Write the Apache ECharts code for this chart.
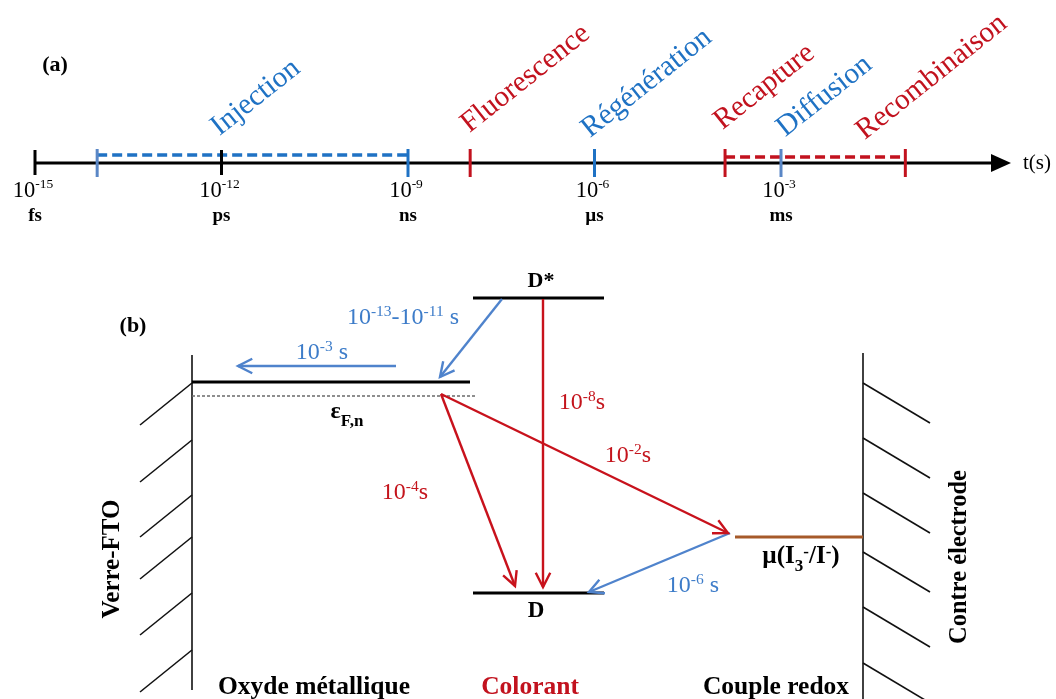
<!DOCTYPE html>
<html><head><meta charset="utf-8">
<script src="https://cdn.jsdelivr.net/npm/echarts@6/dist/echarts.min.js"></script>
<style>html,body{margin:0;padding:0;background:#fff}#c{width:1056px;height:699px}</style>
</head><body><div id="c"></div>
<script>
// ================= DATA =================
// (a) time scale, values are log10(t / s)
const tickExponents = [-15, -12, -9, -6, -3];
const tickUnits = ['fs', 'ps', 'ns', 'µs', 'ms'];
const axisExtent = [-15, 0.7];                 // arrow runs up to here
const markerExp   = [-15, -12, -14, -9, -8, -6, -3.9, -3, -1];
const markerKind  = ['k', 'k', 'b2', 'b', 'r', 'b', 'r', 'b2', 'r'];
const rangeStart  = [-14, -3.9];
const rangeEnd    = [-9, -1];
const rangeKind   = ['b', 'r'];
const processNames = ['Injection', 'Fluorescence', 'Régénération', 'Recapture', 'Diffusion', 'Recombinaison'];
const processKind  = ['b', 'r', 'b', 'r', 'b', 'r'];
const processLabelExp = [-11.96, -7.94, -6.0, -3.87, -2.86, -1.58];

// (b) energy diagram, schematic units (x: position, y: level, downwards)
const levelNames = ['D*', 'BC', 'D', 'redox'];
const levelX1 = [473, 192, 473, 735];
const levelX2 = [604, 470, 604, 863];
const levelY  = [298, 382, 593, 537];
const levelKind = ['k', 'k', 'k', 'brown'];
const fermiX = [192, 477];
const fermiY = 396;
const electrodeX = [192, 863];
const electrodeTop = [355, 353];
const electrodeBottom = [690, 699];
const hatchLeftY  = [383, 440, 495, 537, 593, 650];
const hatchRightY = [383, 438, 493, 552, 607, 663];
// transfers: from (x1,y1) to (x2,y2)
const transferX1 = [396, 502, 730, 543, 441, 441];
const transferY1 = [366, 299, 533, 299, 394, 394];
const transferX2 = [238, 440, 589, 543, 515, 728];
const transferY2 = [366, 377, 592, 587, 586, 533];
const transferKind = ['ab', 'ab', 'ab', 'ar', 'ar', 'ar'];
const transferTimes = ['10{sup|-3} s', '10{sup|-13}-10{sup|-11} s', '10{sup|-6} s', '10{sup|-8}s', '10{sup|-4}s', '10{sup|-2}s'];
const transferLabelX = [322, 403, 693, 582, 405, 628];
const transferLabelY = [352, 317, 585, 402, 492, 455];

// ================= STYLE =================
const COL = {k:'#000000', b:'#1f72c4', b2:'#5a87c6', r:'#c2121e', ab:'#4f83cc', ar:'#c8121c', brown:'#a65a2a', grey:'#6a6a6a'};
const SERIF = '"Liberation Serif","DejaVu Serif",serif';
const AXIS_Y = 163;
const DEG = Math.PI / 180;

const chart = echarts.init(document.getElementById('c'), null, {renderer: 'canvas'});

function head(p1, p2, len, ang) {
  const dx = p2[0] - p1[0], dy = p2[1] - p1[1], L = Math.hypot(dx, dy);
  const bx = -dx / L, by = -dy / L, c = Math.cos(ang), s = Math.sin(ang);
  return [
    [p2[0] + len * (bx * c - by * s), p2[1] + len * (bx * s + by * c)],
    [p2[0], p2[1]],
    [p2[0] + len * (bx * c + by * s), p2[1] + len * (-bx * s + by * c)]
  ];
}
function richText(base, sup, color, weight) {
  return {
    b: {fontFamily: SERIF, fontSize: base, fontWeight: weight || 'normal', fill: color, color: color, lineHeight: base + 2, verticalAlign: 'bottom'},
    sup: {fontFamily: SERIF, fontSize: sup, fontWeight: weight || 'normal', fill: color, color: color, lineHeight: base + 2, verticalAlign: 'top'},
    sub: {fontFamily: SERIF, fontSize: sup, fontWeight: weight || 'normal', fill: color, color: color, lineHeight: sup, verticalAlign: 'bottom'}
  };
}
function wrapBase(t) {
  return t.split(/(\{sup\|[^}]*\}|\{sub\|[^}]*\})/).filter(s => s.length).map(s => s.charAt(0) === '{' ? s : '{b|' + s + '}').join('');
}

// static texts of the figure
const annoText = ['(a)', '(b)', 'D*', 'D', 'ε{sub|F,n}', 'µ(I{sub|3}{sup|-}/I{sup|-})', 'Verre-FTO', 'Contre électrode', 'Oxyde métallique', 'Colorant', 'Couple redox', 't(s)'];
const annoX = [55, 133, 541, 536, 347, 801, 114, 960, 314, 530, 776, 1037];
const annoY = [66, 327, 282, 612, 415, 560, 559, 557, 688, 688, 688, 164];
const annoKind = ['k', 'k', 'k', 'k', 'k', 'k', 'k', 'k', 'k', 'r', 'k', 'k'];
const annoSize = [22, 22, 22, 23, 24, 25, 25, 24.5, 25.5, 25.5, 25.5, 21];
const annoSmall = [14, 14, 14, 14, 17, 17, 16, 16, 16, 16, 16, 14];
const annoBold = [1, 1, 1, 1, 1, 1, 1, 1, 1, 1, 1, 0];
const annoRot = [0, 0, 0, 0, 0, 0, 90, 90, 0, 0, 0, 0];

const xDiag = {gridIndex: 0, type: 'value', min: 0, max: 1056, show: false};
const tMin = -15 - 35 / 62.1667;
const xTime = {gridIndex: 0, type: 'value', min: tMin, max: tMin + 1056 / 62.1667, show: false};
const yDiag = {gridIndex: 0, type: 'value', min: 0, max: 699, inverse: true, show: false};

const series = [];

// ---- (a) main time axis with arrow ----
series.push({
  type: 'custom', xAxisIndex: 1, yAxisIndex: 0, silent: true, z: 2,
  data: [axisExtent],
  renderItem(params, api) {
    const p1 = api.coord([api.value(0), AXIS_Y]);
    const p2 = api.coord([api.value(1), AXIS_Y]);
    return {type: 'group', children: [
      {type: 'line', shape: {x1: p1[0], y1: p1[1], x2: p2[0] - 14, y2: p2[1]}, style: {stroke: '#000', lineWidth: 3}},
      {type: 'polygon', shape: {points: [[p2[0], p2[1]], [p2[0] - 20, p2[1] - 9], [p2[0] - 20, p2[1] + 9]]}, style: {fill: '#000'}}
    ]};
  }
});
// ---- (a) dashed ranges ----
series.push({
  type: 'custom', xAxisIndex: 1, yAxisIndex: 0, silent: true, z: 3,
  data: rangeStart.map((s, i) => [s, rangeEnd[i]]),
  renderItem(params, api) {
    const k = rangeKind[params.dataIndex];
    const yy = k === 'b' ? AXIS_Y - 8 : AXIS_Y - 6;
    const p1 = api.coord([api.value(0), yy]);
    const p2 = api.coord([api.value(1), yy]);
    return {type: 'line', shape: {x1: p1[0], y1: p1[1], x2: p2[0], y2: p2[1]}, style: {stroke: COL[k], lineWidth: 3.5, lineDash: [10, 5]}};
  }
});
// ---- (a) tick marks ----
series.push({
  type: 'custom', xAxisIndex: 1, yAxisIndex: 0, silent: true, z: 4,
  data: markerExp.map(v => [v]),
  renderItem(params, api) {
    const k = markerKind[params.dataIndex];
    const top = k === 'k' ? AXIS_Y - 13 : AXIS_Y - 14;
    const bot = k === 'k' ? AXIS_Y + 12 : AXIS_Y + 14;
    const p1 = api.coord([api.value(0), top]);
    const p2 = api.coord([api.value(0), bot]);
    return {type: 'line', shape: {x1: p1[0], y1: p1[1], x2: p2[0], y2: p2[1]}, style: {stroke: COL[k], lineWidth: 3}};
  }
});
// ---- (a) tick labels ----
series.push({
  type: 'custom', xAxisIndex: 1, yAxisIndex: 0, silent: true, z: 5,
  data: tickExponents.map(v => [v]),
  renderItem(params, api) {
    const i = params.dataIndex;
    const p1 = api.coord([api.value(0), 190]);
    const p2 = api.coord([api.value(0), 216]);
    return {type: 'group', children: [
      {type: 'text', x: p1[0] - 2, y: p1[1], style: {text: '{b|10}{sup|' + tickExponents[i] + '}', rich: richText(22.5, 13.5, '#000'), align: 'center', verticalAlign: 'middle'}},
      {type: 'text', x: p2[0], y: p2[1], style: {text: tickUnits[i], fontFamily: SERIF, fontSize: 19, fontWeight: 'bold', fill: '#000', align: 'center', verticalAlign: 'middle'}}
    ]};
  }
});
// ---- (a) process names ----
const processBaseY = [142, 139, 144, 136, 143, 146];
series.push({
  type: 'custom', xAxisIndex: 1, yAxisIndex: 0, silent: true, z: 5,
  data: processLabelExp.map(v => [v]),
  renderItem(params, api) {
    const i = params.dataIndex;
    const p = api.coord([api.value(0), processBaseY[i]]);
    return {type: 'text', x: p[0], y: p[1], rotation: 38.5 * DEG,
      style: {text: processNames[i], fontFamily: SERIF, fontSize: 29.5, fill: COL[processKind[i]], align: 'left', verticalAlign: 'bottom'}};
  }
});

// ---- (b) electrodes + hatching ----
series.push({
  type: 'custom', xAxisIndex: 0, yAxisIndex: 0, silent: true, z: 2,
  data: electrodeX.map((x, i) => [x, electrodeTop[i], electrodeBottom[i]]),
  renderItem(params, api) {
    const i = params.dataIndex;
    const x = api.value(0);
    const p1 = api.coord([x, api.value(1)]), p2 = api.coord([x, api.value(2)]);
    const ch = [{type: 'line', shape: {x1: p1[0], y1: p1[1], x2: p2[0], y2: p2[1]}, style: {stroke: '#111', lineWidth: 1.6}}];
    const ys = i === 0 ? hatchLeftY : hatchRightY;
    const dx = i === 0 ? -52 : 67, dy = i === 0 ? 42 : 40;
    ys.forEach(y => {
      const a = api.coord([x, y]), b = api.coord([x + dx, y + dy]);
      ch.push({type: 'line', shape: {x1: a[0], y1: a[1], x2: b[0], y2: b[1]}, style: {stroke: '#111', lineWidth: 1.6}});
    });
    return {type: 'group', children: ch};
  }
});
// ---- (b) energy levels ----
series.push({
  type: 'custom', xAxisIndex: 0, yAxisIndex: 0, silent: true, z: 3,
  data: levelY.map((y, i) => [levelX1[i], levelX2[i], y]),
  renderItem(params, api) {
    const i = params.dataIndex;
    const p1 = api.coord([api.value(0), api.value(2)]), p2 = api.coord([api.value(1), api.value(2)]);
    return {type: 'line', shape: {x1: p1[0], y1: p1[1], x2: p2[0], y2: p2[1]}, style: {stroke: COL[levelKind[i]], lineWidth: 3.2}};
  }
});
// ---- (b) quasi Fermi level ----
series.push({
  type: 'custom', xAxisIndex: 0, yAxisIndex: 0, silent: true, z: 3,
  data: [[fermiX[0], fermiX[1], fermiY]],
  renderItem(params, api) {
    const p1 = api.coord([api.value(0), api.value(2)]), p2 = api.coord([api.value(1), api.value(2)]);
    return {type: 'line', shape: {x1: p1[0], y1: p1[1], x2: p2[0], y2: p2[1]}, style: {stroke: COL.grey, lineWidth: 1.6, lineDash: [3, 2]}};
  }
});
// ---- (b) transfer arrows ----
series.push({
  type: 'custom', xAxisIndex: 0, yAxisIndex: 0, silent: true, z: 4,
  data: transferX1.map((x, i) => [x, transferY1[i], transferX2[i], transferY2[i]]),
  renderItem(params, api) {
    const i = params.dataIndex;
    const p1 = api.coord([api.value(0), api.value(1)]), p2 = api.coord([api.value(2), api.value(3)]);
    const c = COL[transferKind[i]];
    return {type: 'group', children: [
      {type: 'line', shape: {x1: p1[0], y1: p1[1], x2: p2[0], y2: p2[1]}, style: {stroke: c, lineWidth: 2.4}},
      {type: 'polyline', shape: {points: head(p1, p2, 16, 27 * DEG)}, style: {stroke: c, lineWidth: 2.4, fill: null, lineJoin: 'miter'}}
    ]};
  }
});
// ---- (b) transfer time labels ----
series.push({
  type: 'custom', xAxisIndex: 0, yAxisIndex: 0, silent: true, z: 5,
  data: transferLabelX.map((x, i) => [x, transferLabelY[i]]),
  renderItem(params, api) {
    const i = params.dataIndex;
    const p = api.coord([api.value(0), api.value(1)]);
    const c = transferKind[i] === 'ab' ? '#3d7cc9' : '#c4141c';
    return {type: 'text', x: p[0], y: p[1], style: {text: wrapBase(transferTimes[i]), rich: richText(24, 15.5, c), align: 'center', verticalAlign: 'middle'}};
  }
});
// ---- static annotations ----
series.push({
  type: 'custom', xAxisIndex: 0, yAxisIndex: 0, silent: true, z: 5,
  data: annoX.map((x, i) => [x, annoY[i]]),
  renderItem(params, api) {
    const i = params.dataIndex;
    const p = api.coord([api.value(0), api.value(1)]);
    const c = COL[annoKind[i]];
    const w = annoBold[i] ? 'bold' : 'normal';
    const rich = richText(annoSize[i], annoSmall[i], c, w);
    rich.sub.lineHeight = annoSize[i] + 6;
    rich.b.verticalAlign = 'top';
    rich.sup.verticalAlign = 'top';
    return {type: 'text', x: p[0], y: p[1], rotation: annoRot[i] * DEG,
      style: {text: wrapBase(annoText[i]), rich: rich, align: 'center', verticalAlign: 'middle'}};
  }
});

chart.setOption({
  animation: false,
  backgroundColor: '#ffffff',
  grid: [{left: 0, right: 0, top: 0, bottom: 0}],
  xAxis: [xDiag, xTime],
  yAxis: [yDiag],
  series: series
});
</script></body></html>
